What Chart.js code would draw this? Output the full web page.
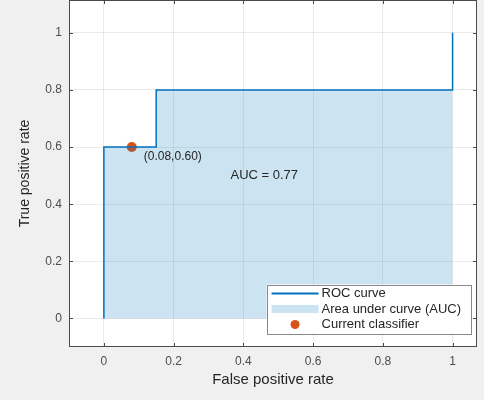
<!DOCTYPE html>
<html>
<head>
<meta charset="utf-8">
<title>ROC curve</title>
<script src="https://cdn.jsdelivr.net/npm/chart.js@4.4.1/dist/chart.umd.min.js"></script>
<style>
  html, body { margin: 0; padding: 0; background: #f0f0f0; }
  #wrap { width: 484px; height: 400px; }
</style>
</head>
<body>
<div id="wrap"><canvas id="roc-chart" width="484" height="400"></canvas></div>
<script>
// ROC curve points (stairs)
const fpr = [0, 0, 0.15, 0.15, 1, 1];
const tpr = [0, 0.6, 0.6, 0.8, 0.8, 1];
// operating point of the current classifier
const classifierFpr = [0.08];
const classifierTpr = [0.60];
const aucValue = 0.77;
const xTicks = [0, 0.2, 0.4, 0.6, 0.8, 1];
const yTicks = [0, 0.2, 0.4, 0.6, 0.8, 1];
const seriesLabels = ['ROC curve', 'Area under curve (AUC)', 'Current classifier'];

const blue = '#0072BD';
const orange = '#D95319';
const areaFill = 'rgba(0,114,189,0.2)';
const fontFamily = "'Liberation Sans', Arial, Helvetica, sans-serif";
const textColor = '#262626';

const rocPoints = fpr.map((x, i) => ({ x: x, y: tpr[i] }));
const opPoints = classifierFpr.map((x, i) => ({ x: x, y: classifierTpr[i] }));

// white plot area on the grey figure
const plotBackground = {
    id: 'plotBackground',
    beforeDraw(chart) {
        const { ctx, chartArea: a } = chart;
        ctx.save();
        ctx.fillStyle = '#ffffff';
        ctx.fillRect(a.left, a.top, a.right - a.left, a.bottom - a.top);
        ctx.restore();
    }
};

// text labels next to the marker and inside the area
const annotations = {
    id: 'annotations',
    afterDatasetsDraw(chart) {
        const { ctx, scales } = chart;
        ctx.save();
        ctx.fillStyle = textColor;
        ctx.textBaseline = 'middle';

        const px = scales.x.getPixelForValue(classifierFpr[0]);
        const py = scales.y.getPixelForValue(classifierTpr[0]);
        ctx.font = '12px ' + fontFamily;
        ctx.textAlign = 'left';
        ctx.fillText('(' + classifierFpr[0].toFixed(2) + ',' + classifierTpr[0].toFixed(2) + ')', px + 12, py + 10);

        ctx.font = '13px ' + fontFamily;
        ctx.textAlign = 'center';
        ctx.fillText('AUC = ' + aucValue.toFixed(2), scales.x.getPixelForValue(0.46), scales.y.getPixelForValue(0.5));
        ctx.restore();
    }
};

// box round the axes with inward tick marks, like MATLAB
const axesBox = {
    id: 'axesBox',
    afterDatasetsDraw(chart) {
        const { ctx, chartArea: a, scales } = chart;
        ctx.save();
        ctx.strokeStyle = '#4a4a4a';
        ctx.lineWidth = 1;
        ctx.strokeRect(a.left + 0.5, a.top + 0.5, a.right - a.left - 1, a.bottom - a.top - 1);
        ctx.beginPath();
        xTicks.forEach(v => {
            const x = Math.round(scales.x.getPixelForValue(v)) + 0.5;
            ctx.moveTo(x, a.bottom); ctx.lineTo(x, a.bottom - 4);
            ctx.moveTo(x, a.top); ctx.lineTo(x, a.top + 4);
        });
        yTicks.forEach(v => {
            const y = Math.round(scales.y.getPixelForValue(v)) + 0.5;
            ctx.moveTo(a.left, y); ctx.lineTo(a.left + 4, y);
            ctx.moveTo(a.right, y); ctx.lineTo(a.right - 4, y);
        });
        ctx.stroke();
        ctx.restore();
    }
};

// legend in the lower right corner of the axes
const cornerLegend = {
    id: 'cornerLegend',
    afterDraw(chart) {
        const { ctx, chartArea: a } = chart;
        ctx.save();
        ctx.font = '13px ' + fontFamily;
        const textW = Math.max(...seriesLabels.map(t => ctx.measureText(t).width));
        const rowH = 15.5;
        const w = 55 + textW + 10;
        const h = rowH * seriesLabels.length + 2;
        const right = a.right - 6;
        const bottom = a.bottom - 14;
        const left = right - w;
        const top = bottom - h;

        ctx.fillStyle = '#ffffff';
        ctx.fillRect(left, top, w, h);
        ctx.strokeStyle = '#8a8a8a';
        ctx.lineWidth = 1;
        ctx.strokeRect(Math.round(left) + 0.5, Math.round(top) + 0.5, Math.round(w), Math.round(h));

        const sx0 = left + 5, sx1 = left + 52;
        seriesLabels.forEach((label, i) => {
            const y = top + 9 + i * rowH;
            if (i === 0) {
                ctx.strokeStyle = blue;
                ctx.lineWidth = 2;
                ctx.beginPath();
                ctx.moveTo(sx0, y); ctx.lineTo(sx1, y);
                ctx.stroke();
            } else if (i === 1) {
                ctx.fillStyle = areaFill;
                ctx.fillRect(sx0, y - 4, sx1 - sx0, 8);
            } else {
                ctx.fillStyle = orange;
                ctx.beginPath();
                ctx.arc((sx0 + sx1) / 2, y, 4.5, 0, Math.PI * 2);
                ctx.fill();
            }
            ctx.fillStyle = textColor;
            ctx.textAlign = 'left';
            ctx.textBaseline = 'middle';
            ctx.fillText(label, left + 55, y);
        });
        ctx.restore();
    }
};

const ctx = document.getElementById('roc-chart').getContext('2d');
const chart = new Chart(ctx, {
    type: 'scatter',
    data: {
        datasets: [
            {
                label: seriesLabels[1],
                data: rocPoints,
                showLine: true,
                borderWidth: 0,
                borderColor: 'rgba(0,0,0,0)',
                backgroundColor: areaFill,
                fill: 'origin',
                pointRadius: 0
            },
            {
                label: seriesLabels[0],
                data: rocPoints,
                showLine: true,
                borderWidth: 1.5,
                borderColor: blue,
                fill: false,
                pointRadius: 0
            },
            {
                label: seriesLabels[2],
                data: opPoints,
                showLine: false,
                pointRadius: 5,
                pointBackgroundColor: orange,
                pointBorderColor: orange,
                pointBorderWidth: 0
            }
        ]
    },
    options: {
        responsive: false,
        animation: false,
        layout: { autoPadding: false, padding: { top: 0, right: 7, left: 0, bottom: 0 } },
        plugins: {
            legend: { display: false },
            tooltip: { enabled: false }
        },
        scales: {
            x: {
                type: 'linear',
                min: -0.1,
                max: 1.07,
                afterBuildTicks: s => { s.ticks = xTicks.map(v => ({ value: v })); },
                afterFit: s => { s.height = 53; s.paddingLeft = 0; s.paddingRight = 0; },
                border: { display: false },
                grid: { color: 'rgba(0,0,0,0.08)', drawTicks: false },
                ticks: {
                    padding: 7,
                    color: '#4d4d4d',
                    font: { family: fontFamily, size: 12 },
                    maxRotation: 0,
                    autoSkip: false,
                    callback: v => String(v)
                },
                title: {
                    display: true,
                    text: 'False positive rate',
                    color: textColor,
                    font: { family: fontFamily, size: 15 },
                    padding: { top: 0, bottom: 11 }
                }
            },
            y: {
                type: 'linear',
                min: -0.1,
                max: 1.115,
                afterBuildTicks: s => { s.ticks = yTicks.map(v => ({ value: v })); },
                afterFit: s => { s.width = 69; s.paddingTop = 0; s.paddingBottom = 0; },
                border: { display: false },
                grid: { color: 'rgba(0,0,0,0.08)', drawTicks: false },
                ticks: {
                    padding: 7,
                    color: '#4d4d4d',
                    font: { family: fontFamily, size: 12 },
                    autoSkip: false,
                    callback: v => String(v)
                },
                title: {
                    display: true,
                    text: 'True positive rate',
                    color: textColor,
                    font: { family: fontFamily, size: 14 },
                    padding: { top: 17, bottom: 0 }
                }
            }
        }
    },
    plugins: [plotBackground, axesBox, annotations, cornerLegend]
});
</script>
</body>
</html>
